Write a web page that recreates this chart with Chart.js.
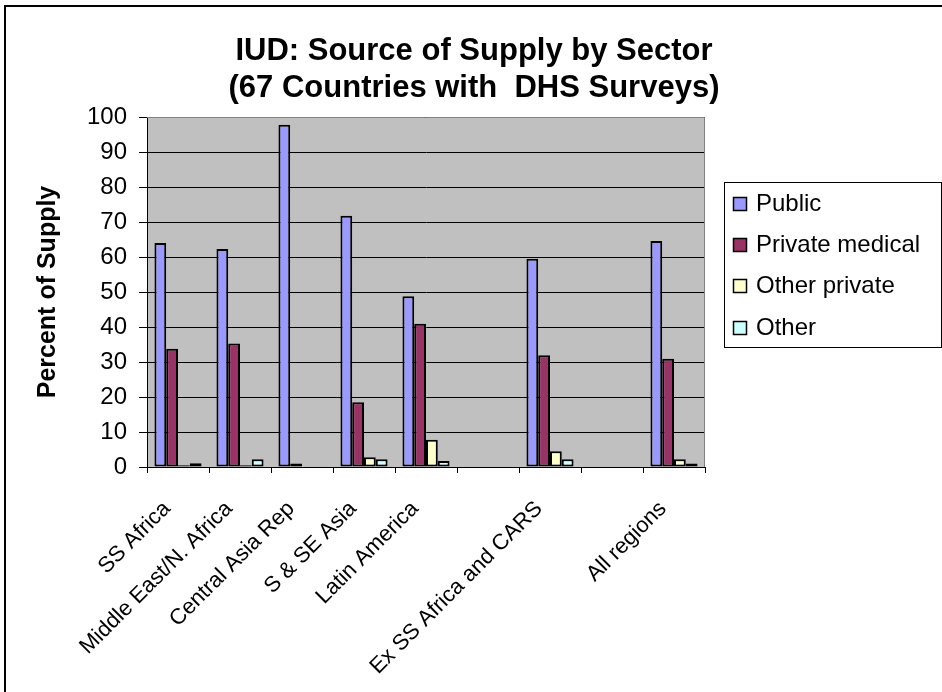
<!DOCTYPE html>
<html>
<head>
<meta charset="utf-8">
<title>IUD: Source of Supply by Sector</title>
<script src="https://cdn.jsdelivr.net/npm/chart.js@4.4.0/dist/chart.umd.min.js"></script>
<style>
  html, body { margin: 0; padding: 0; background: #fff; }
  #wrap { position: relative; width: 942px; height: 692px; }
</style>
</head>
<body>
<div id="wrap"><canvas id="iud-supply-chart" width="942" height="692"></canvas></div>
<script>
// Regions (blank slots are spacer columns between the groups)
const regions = ['SS Africa', 'Middle East/N. Africa', 'Central Asia Rep', 'S & SE Asia', 'Latin America', '', 'Ex SS Africa and CARS', '', 'All regions'];

// Percent of IUD users by source of supply
const publicSector   = [64.0, 62.3, 97.8, 71.8, 48.8, null, 59.5, null, 64.6];
const privateMedical = [33.8, 35.3, 1.0, 18.5, 40.9, null, 31.9, null, 30.9];
const otherPrivate   = [0.5, 0.5, 0, 2.8, 7.8, null, 4.5, null, 2.2];
const otherSource    = [1.1, 2.2, 0, 2.2, 1.7, null, 2.2, null, 1.0];

const sectorNames = ['Public', 'Private medical', 'Other private', 'Other'];
const sectorColors = ['#9999ff', '#993366', '#ffffcc', '#ccffff'];

const titleLines = ['IUD: Source of Supply by Sector', '(67 Countries with  DHS Surveys)'];
const yAxisTitle = 'Percent of Supply';
const yMin = 0, yMax = 100, yStep = 10;

const FONT = 'Arial, "Liberation Sans", sans-serif';
Chart.defaults.font.family = FONT;
Chart.defaults.color = '#000';

// Grey plot area, page frame, title and boxed legend, drawn the way the old spreadsheet chart looked
const sheetDecor = {
  id: 'sheetDecor',
  beforeDraw(chart) {
    const { ctx, chartArea: a } = chart;
    ctx.save();
    ctx.fillStyle = '#fff';
    ctx.fillRect(0, 0, chart.width, chart.height);
    ctx.fillStyle = '#c0c0c0';
    ctx.fillRect(a.left, a.top, a.right - a.left, a.bottom - a.top);
    ctx.restore();
  },
  afterDraw(chart) {
    const { ctx, chartArea: a } = chart;
    ctx.save();

    // plot area edge
    ctx.strokeStyle = '#808080';
    ctx.lineWidth = 1;
    ctx.beginPath();
    ctx.moveTo(a.left, a.top + 0.5);
    ctx.lineTo(a.right - 0.5, a.top + 0.5);
    ctx.lineTo(a.right - 0.5, a.bottom);
    ctx.stroke();

    // outer frame
    ctx.strokeStyle = '#000';
    ctx.lineWidth = 2;
    ctx.strokeRect(5, 6, chart.width + 20, chart.height + 20);

    // title
    ctx.fillStyle = '#000';
    ctx.font = 'bold 31px ' + FONT;
    ctx.textAlign = 'center';
    ctx.textBaseline = 'alphabetic';
    ctx.fillText(titleLines[0], 474, 60);
    ctx.fillText(titleLines[1], 474, 97);

    // legend
    const lx = 724, ly = 182, lw = 217, lh = 165;
    ctx.fillStyle = '#fff';
    ctx.fillRect(lx, ly, lw, lh);
    ctx.strokeStyle = '#000';
    ctx.lineWidth = 1;
    ctx.strokeRect(lx + 0.5, ly + 0.5, lw, lh);
    ctx.font = '24px ' + FONT;
    ctx.textAlign = 'left';
    chart.data.datasets.forEach((ds, i) => {
      const base = Math.round(211 + i * 41.2);
      ctx.fillStyle = ds.backgroundColor;
      ctx.fillRect(733, base - 14, 14, 14);
      ctx.strokeStyle = '#000';
      ctx.lineWidth = 1.5;
      ctx.strokeRect(733.5, base - 13.5, 13, 13);
      ctx.fillStyle = '#000';
      ctx.fillText(ds.label, 756, base);
    });
    ctx.restore();
  }
};

const seriesValues = [publicSector, privateMedical, otherPrivate, otherSource];

new Chart(document.getElementById('iud-supply-chart'), {
  type: 'bar',
  data: {
    labels: regions,
    datasets: seriesValues.map((values, i) => ({
      label: sectorNames[i],
      data: values,
      backgroundColor: sectorColors[i],
      borderColor: '#000',
      borderWidth: 2,
      borderSkipped: false,
      categoryPercentage: 0.76,
      barPercentage: 1
    }))
  },
  options: {
    responsive: false,
    animation: false,
    devicePixelRatio: 1,
    layout: { padding: { top: 117, right: 237, left: 0, bottom: 0 } },
    plugins: {
      legend: { display: false },
      title: { display: false },
      tooltip: { enabled: false }
    },
    scales: {
      x: {
        grid: { offset: true, drawOnChartArea: false, drawTicks: true, tickLength: 6, color: '#000', tickColor: '#000' },
        border: { color: '#000', width: 1 },
        ticks: {
          autoSkip: false,
          minRotation: 45,
          maxRotation: 45,
          padding: 23,
          labelOffset: -11,
          color: '#000',
          font: { size: 22 }
        },
        afterFit: scale => { scale.height = 225; }
      },
      y: {
        min: yMin,
        max: yMax,
        grid: { color: '#000', lineWidth: 1, tickLength: 8, tickColor: '#000' },
        border: { color: '#000', width: 1 },
        ticks: { stepSize: yStep, padding: 12, color: '#000', font: { size: 24 } },
        title: {
          display: true,
          text: yAxisTitle,
          color: '#000',
          font: { size: 25, weight: 'bold' },
          padding: { top: 33, bottom: 0 }
        },
        afterFit: scale => { scale.width = 147; }
      }
    }
  },
  plugins: [sheetDecor]
});
</script>
</body>
</html>
